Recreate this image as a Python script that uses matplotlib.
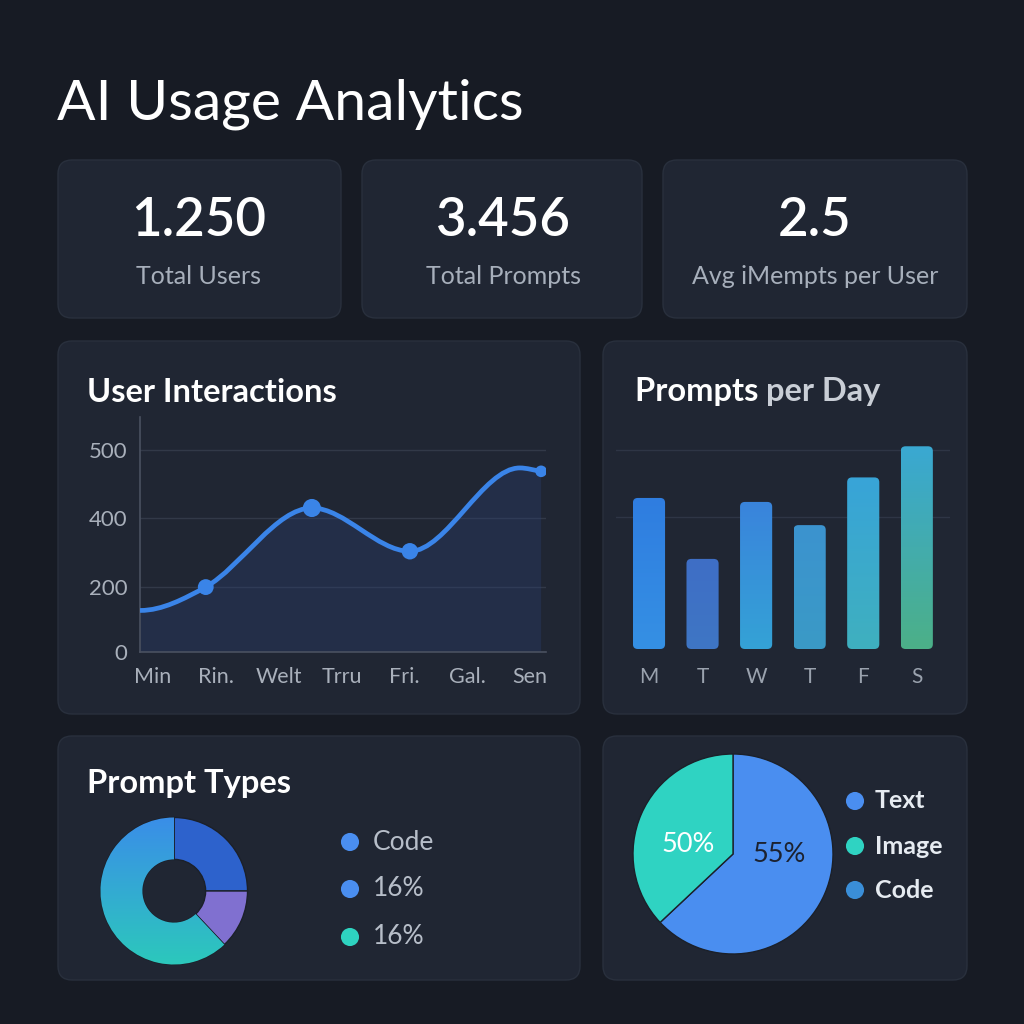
import numpy as np
import matplotlib
matplotlib.use("Agg")
import matplotlib.pyplot as plt
from matplotlib.path import Path
from matplotlib.patches import FancyBboxPatch, PathPatch
from matplotlib.colors import to_rgb

plt.rcParams['font.family'] = ['Lato', 'DejaVu Sans']

# ---------------- data ----------------
title = "AI Usage Analytics"
kpi_values = ["1.250", "3.456", "2.5"]
kpi_labels = ["Total Users", "Total Prompts", "Avg iMempts per User"]

line_days = ["Min", "Rin.", "Welt", "Trru", "Fri.", "Gal.", "Sen"]
line_x = [-0.2, 0.84, 2.53, 4.09, 5.84, 6.18]
line_y = [128, 200, 415, 304, 474, 469]
line_marked = [1, 2, 3, 5]
line_yticks = [0, 200, 400, 500]

bar_days = ["M", "T", "W", "T", "F", "S"]
bar_vals = [228, 136, 222, 187, 259, 306]

type_vals = [25, 13, 62]
type_legend = ["Code", "16%", "16%"]

share_vals = [63, 37]
share_labels = ["55%", "50%"]
share_legend = ["Text", "Image", "Code"]

# ---------------- style ----------------
BG = "#171b24"
CARD = "#202633"
W = H = 1024

fig = plt.figure(figsize=(10.24, 10.24), dpi=100, facecolor=BG)
canvas = fig.add_axes([0, 0, 1, 1])
canvas.set_xlim(0, W)
canvas.set_ylim(H, 0)
canvas.axis("off")


def card(x0, y0, x1, y1):
    canvas.add_patch(FancyBboxPatch((x0, y0), x1 - x0, y1 - y0,
                                    boxstyle="round,pad=0,rounding_size=14",
                                    fc=CARD, ec="#29303d", lw=1))


def px_axes(x0, y0, x1, y1):
    ax = fig.add_axes([x0 / W, 1 - y1 / H, (x1 - x0) / W, (y1 - y0) / H])
    ax.set_facecolor("none")
    return ax


def gradient(c_top, c_bot, n=64):
    a, b = np.array(to_rgb(c_top)), np.array(to_rgb(c_bot))
    t = np.linspace(0, 1, n)[:, None]
    return (a * (1 - t) + b * t)[:, None, :]


# cards
card(58, 160, 341, 318)
card(362, 160, 642, 318)
card(663, 160, 967, 318)
card(58, 341, 580, 714)
card(603, 341, 967, 714)
card(58, 736, 580, 980)
card(603, 736, 967, 980)

canvas.text(57, 104, title, color="white", fontsize=41, va="center", ha="left")

for cx, v, lab in zip([199, 503, 815], kpi_values, kpi_labels):
    canvas.text(cx, 221, v, color="white", fontsize=38, fontweight="semibold",
                ha="center", va="center")
    canvas.text(cx, 276, lab, color="#a7afbb", fontsize=18, ha="center", va="center")

TS = 23.5
canvas.text(87, 392, "User Interactions", color="white", fontsize=TS,
            fontweight="bold", va="center")
t1 = canvas.text(635, 392, "Prompts ", color="white", fontsize=TS,
                 fontweight="bold", va="center")
canvas.annotate("per Day", xycoords=t1, xy=(1, 0.5), va="center",
                color="#c9ced6", fontsize=TS, fontweight="bold")
canvas.text(87, 784, "Prompt Types", color="white", fontsize=TS,
            fontweight="bold", va="center")

# ---------------- line chart ----------------
ax = px_axes(140, 417, 546, 652)
yv = [0, 200, 400, 500, 1000]
yp = [0, 65, 134, 202, 542]
ax.set_yscale("function", functions=(lambda v: np.interp(v, yv, yp),
                                     lambda p: np.interp(p, yp, yv)))
ax.set_xlim(-0.207, 6.258)
ax.set_ylim(0, 549)
ax.set_yticks(line_yticks)
ax.set_yticklabels([str(t) for t in line_yticks])
ax.set_xticks(range(len(line_days)))
ax.set_xticklabels(line_days)
ax.tick_params(axis="y", length=0, pad=9, colors="#a9b0bb", labelsize=16)
ax.tick_params(axis="x", length=0, pad=11, colors="#a9b0bb", labelsize=15.5)
for s in ["top", "right"]:
    ax.spines[s].set_visible(False)
for s in ["left", "bottom"]:
    ax.spines[s].set_color("#4a5160")
    ax.spines[s].set_linewidth(1.2)
ax.grid(axis="y", color="#323948", lw=1)
ax.set_axisbelow(True)

slopes = [0.0,
          (line_y[2] - line_y[0]) / (line_x[2] - line_x[0]),
          0.0, 0.0, 0.0,
          (line_y[5] - line_y[4]) / (line_x[5] - line_x[4])]
verts = [(line_x[0], line_y[0])]
codes = [Path.MOVETO]
for i in range(len(line_x) - 1):
    dx = line_x[i + 1] - line_x[i]
    verts += [(line_x[i] + dx / 3, line_y[i] + slopes[i] * dx / 3),
              (line_x[i + 1] - dx / 3, line_y[i + 1] - slopes[i + 1] * dx / 3),
              (line_x[i + 1], line_y[i + 1])]
    codes += [Path.CURVE4] * 3
fill_verts = verts + [(line_x[-1], 0), (line_x[0], 0), (line_x[0], line_y[0])]
fill_codes = codes + [Path.LINETO, Path.LINETO, Path.CLOSEPOLY]
ax.add_patch(PathPatch(Path(fill_verts, fill_codes), fc="#2a3f72", alpha=0.35,
                       ec="none", zorder=2))
ax.add_patch(PathPatch(Path(verts, codes), fc="none", ec="#3a84e8", lw=3.4,
                       capstyle="round", zorder=3))
ax.scatter([line_x[i] for i in line_marked], [line_y[i] for i in line_marked],
           s=[130, 170, 140, 70], color="#3a84e8", zorder=4, edgecolors="none")

# ---------------- bar chart ----------------
bax = px_axes(616, 437, 950, 649)
bar_top = ["#2f7de0", "#3e6ec6", "#3a84dc", "#3c93cf", "#38a4d8", "#3aa8d2"]
bar_bot = ["#3590e4", "#3f76c4", "#34a2d6", "#3a9ac6", "#3fb0bf", "#4cb088"]
bars = bax.bar(range(len(bar_vals)), bar_vals, width=0.6, color="none")
xlim, ylim = (-0.616, 5.62), (0, 320)
bax.set_xlim(*xlim)
bax.set_ylim(*ylim)
aspect = (320 / 212) / ((xlim[1] - xlim[0]) / 334)
for rect, ct, cb in zip(bars, bar_top, bar_bot):
    x0, w, h = rect.get_x(), rect.get_width(), rect.get_height()
    patch = FancyBboxPatch((x0, 0), w, h, boxstyle="round,pad=0,rounding_size=0.09",
                           mutation_aspect=aspect, fc="none", ec="none")
    bax.add_patch(patch)
    im = bax.imshow(gradient(ct, cb), extent=(x0, x0 + w, 0, h), aspect="auto",
                    zorder=2, interpolation="bilinear")
    im.set_clip_path(patch)
bax.set_xlim(*xlim)
bax.set_ylim(*ylim)
bax.set_yticks([200, 300])
bax.set_xticks(range(len(bar_days)))
bax.set_xticklabels(bar_days)
bax.tick_params(axis="y", length=0, labelleft=False)
bax.tick_params(axis="x", length=0, pad=13, colors="#9aa2ae", labelsize=15)
bax.grid(axis="y", color="#2e3545", lw=1)
bax.set_axisbelow(True)
for s in bax.spines.values():
    s.set_visible(False)

# ---------------- donut ----------------
dax = px_axes(99, 816, 249, 966)
wedges, _ = dax.pie(type_vals, colors=["#2d62cc", "#8070d0", "#33a6d8"],
                    startangle=90, counterclock=False, radius=1,
                    wedgeprops=dict(width=0.57, edgecolor="#1b2029", linewidth=1))
im = dax.imshow(gradient("#3a8ee8", "#2cc8bc"), extent=(-1, 1, -1, 1),
                aspect="auto", zorder=3, interpolation="bilinear")
im.set_clip_path(wedges[2])
dax.set_xlim(-1.02, 1.02)
dax.set_ylim(-1.02, 1.02)
dax.axis("off")

for y, lab, c in zip([842, 889, 937], type_legend, ["#4a8ef0", "#4a8ef0", "#2ed3c0"]):
    canvas.scatter([350], [y], s=170, color=c, edgecolors="none")
    canvas.text(373, y, lab, color="#b7bec9", fontsize=19, va="center")

# ---------------- pie ----------------
pax = px_axes(631, 752, 835, 956)
pax.pie(share_vals, colors=["#4a8ef0", "#2fd3c2"], startangle=90,
        counterclock=False, radius=1,
        wedgeprops=dict(edgecolor="#1b2029", linewidth=1))
pax.text(0.46, 0.0, share_labels[0], color="#1c2230", fontsize=19.5,
         ha="center", va="center")
pax.text(-0.45, 0.10, share_labels[1], color="white", fontsize=19.5,
         ha="center", va="center")
pax.set_xlim(-1.02, 1.02)
pax.set_ylim(-1.02, 1.02)
pax.axis("off")

for y, lab, c in zip([801, 846, 890], share_legend, ["#4a8ef0", "#2fd3c2", "#3a8ed8"]):
    canvas.scatter([855], [y], s=170, color=c, edgecolors="none")
    canvas.text(875, y, lab, color="#e6ebf1", fontsize=18, fontweight="bold",
                va="center")

fig.savefig("out.png", dpi=100, facecolor=BG)
